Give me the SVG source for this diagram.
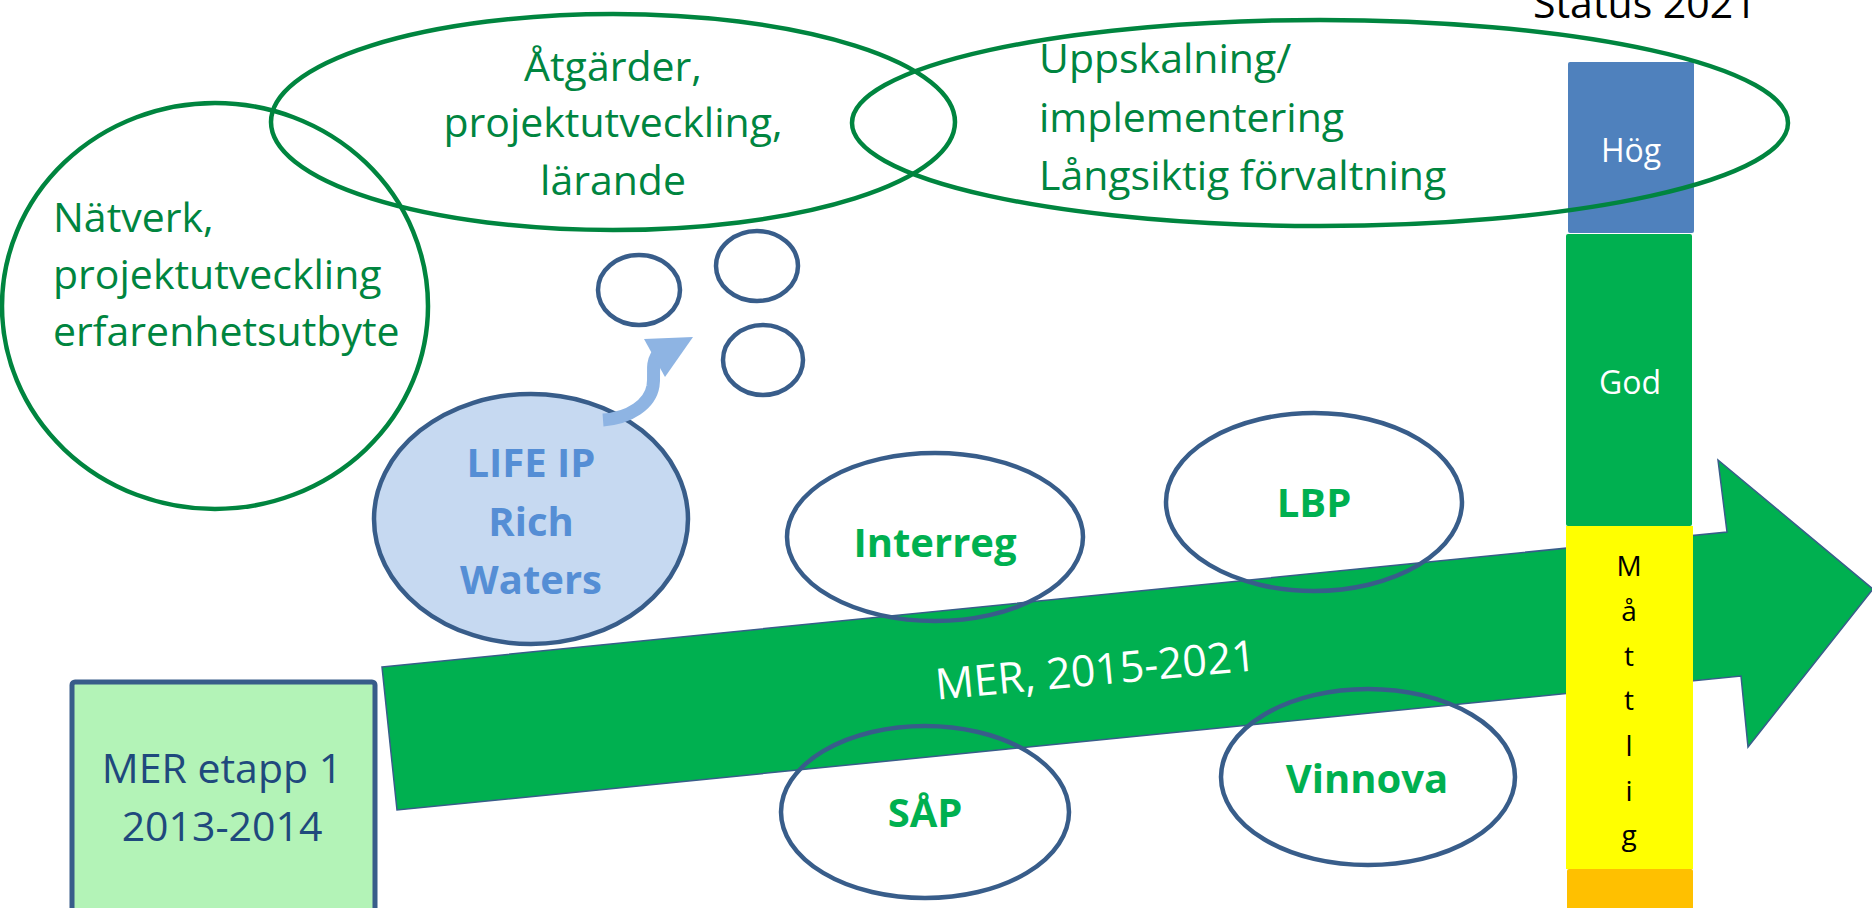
<svg xmlns="http://www.w3.org/2000/svg" width="1872" height="908" viewBox="0 0 1872 908">
<style>
text{font-family:'Open Sans','Noto Sans',sans-serif}
.gell{fill:none;stroke:#00853F;stroke-width:4.5}
.bell{fill:none;stroke:#385D8A;stroke-width:4.5}
.tg{fill:#00853F;font-size:41px}
.tb{fill:#00B050;font-size:40px;font-weight:700;text-anchor:middle}
.mid{text-anchor:middle}
.bar{font-size:32px;text-anchor:middle}
</style>
<rect width="1872" height="908" fill="#FFFFFF"/>
<g id="mer-arrow">
<polygon points="382,667 1727,532 1718,460 1873,589 1748,747 1741,676 397,810" fill="#00B050" stroke="#385D8A" stroke-width="1.5"/>
<text transform="translate(1097,685) rotate(-5.3)" class="mid" font-size="43" fill="#FFFFFF">MER, 2015-2021</text>
</g>
<g id="mer-etapp1">
<rect x="72" y="682" width="303" height="240" rx="3" fill="#B3F3B7" stroke="#385D8A" stroke-width="5"/>
<text x="222" y="783" class="mid" font-size="41" fill="#1F497D">MER etapp 1</text>
<text x="222" y="841" class="mid" font-size="41" fill="#1F497D">2013-2014</text>
</g>
<g id="status-bar">
<text x="1533" y="18" font-size="41" fill="#000000">Status 2021</text>
<rect x="1568" y="62" width="126" height="171" rx="2" fill="#4F81BD"/>
<text x="1631" y="162" class="bar" fill="#FFFFFF">Hög</text>
<rect x="1566" y="234" width="126" height="292" rx="2" fill="#00B050"/>
<text x="1630" y="394" class="bar" fill="#FFFFFF">God</text>
<rect x="1566" y="526" width="127" height="343" fill="#FFFF00"/>
<g font-size="28" fill="#000000" text-anchor="middle">
<text x="1629" y="576">M</text>
<text x="1629" y="621">å</text>
<text x="1629" y="666">t</text>
<text x="1629" y="710">t</text>
<text x="1629" y="756">l</text>
<text x="1629" y="801">i</text>
<text x="1629" y="845">g</text>
</g>
<rect x="1567" y="869" width="126" height="50" rx="2" fill="#FFC000"/>
</g>
<g id="natverk">
<ellipse cx="215" cy="306" rx="213" ry="203" class="gell"/>
<text x="53" y="232" class="tg">Nätverk,</text>
<text x="53" y="289" class="tg">projektutveckling</text>
<text x="53" y="346" class="tg">erfarenhetsutbyte</text>
</g>
<g id="atgarder">
<ellipse cx="613" cy="122" rx="342" ry="108" class="gell"/>
<text x="613" y="81" class="tg mid">Åtgärder,</text>
<text x="613" y="137" class="tg mid">projektutveckling,</text>
<text x="613" y="195" class="tg mid">lärande</text>
</g>
<g id="uppskalning">
<ellipse cx="1320" cy="123" rx="468" ry="103" class="gell"/>
<text x="1039" y="73" class="tg">Uppskalning/</text>
<text x="1039" y="132" class="tg">implementering</text>
<text x="1039" y="190" class="tg">Långsiktig förvaltning</text>
</g>
<g id="bubbles">
<ellipse cx="639" cy="290" rx="41" ry="35" class="bell"/>
<ellipse cx="757" cy="266" rx="41" ry="35" class="bell"/>
<ellipse cx="763" cy="360" rx="40" ry="35" class="bell"/>
</g>
<g id="life-ip">
<ellipse cx="531" cy="519" rx="157" ry="125" fill="#C6D9F1" stroke="#385D8A" stroke-width="4.5"/>
<text x="531" y="477" class="tb" style="fill:#558ED5">LIFE IP</text>
<text x="531" y="536" class="tb" style="fill:#558ED5">Rich</text>
<text x="531" y="594" class="tb" style="fill:#558ED5">Waters</text>
</g>
<g id="interreg">
<ellipse cx="935" cy="537" rx="148" ry="84" class="bell"/>
<text x="935" y="557" class="tb">Interreg</text>
</g>
<g id="lbp">
<ellipse cx="1314" cy="502" rx="148" ry="89" class="bell"/>
<text x="1314" y="517" class="tb">LBP</text>
</g>
<g id="sap">
<ellipse cx="925" cy="812" rx="144" ry="86" class="bell"/>
<text x="925" y="827" class="tb">SÅP</text>
</g>
<g id="vinnova">
<ellipse cx="1368" cy="777" rx="147" ry="88" class="bell"/>
<text x="1367" y="793" class="tb">Vinnova</text>
</g>
<g id="connectors">
<path d="M603,420 C630,418 650,404 653,386 C655,372 651,366 657,355" fill="none" stroke="#8EB4E3" stroke-width="13"/>
<polygon points="644,339 693,337 665,377" fill="#8EB4E3"/>
</g>
</svg>
